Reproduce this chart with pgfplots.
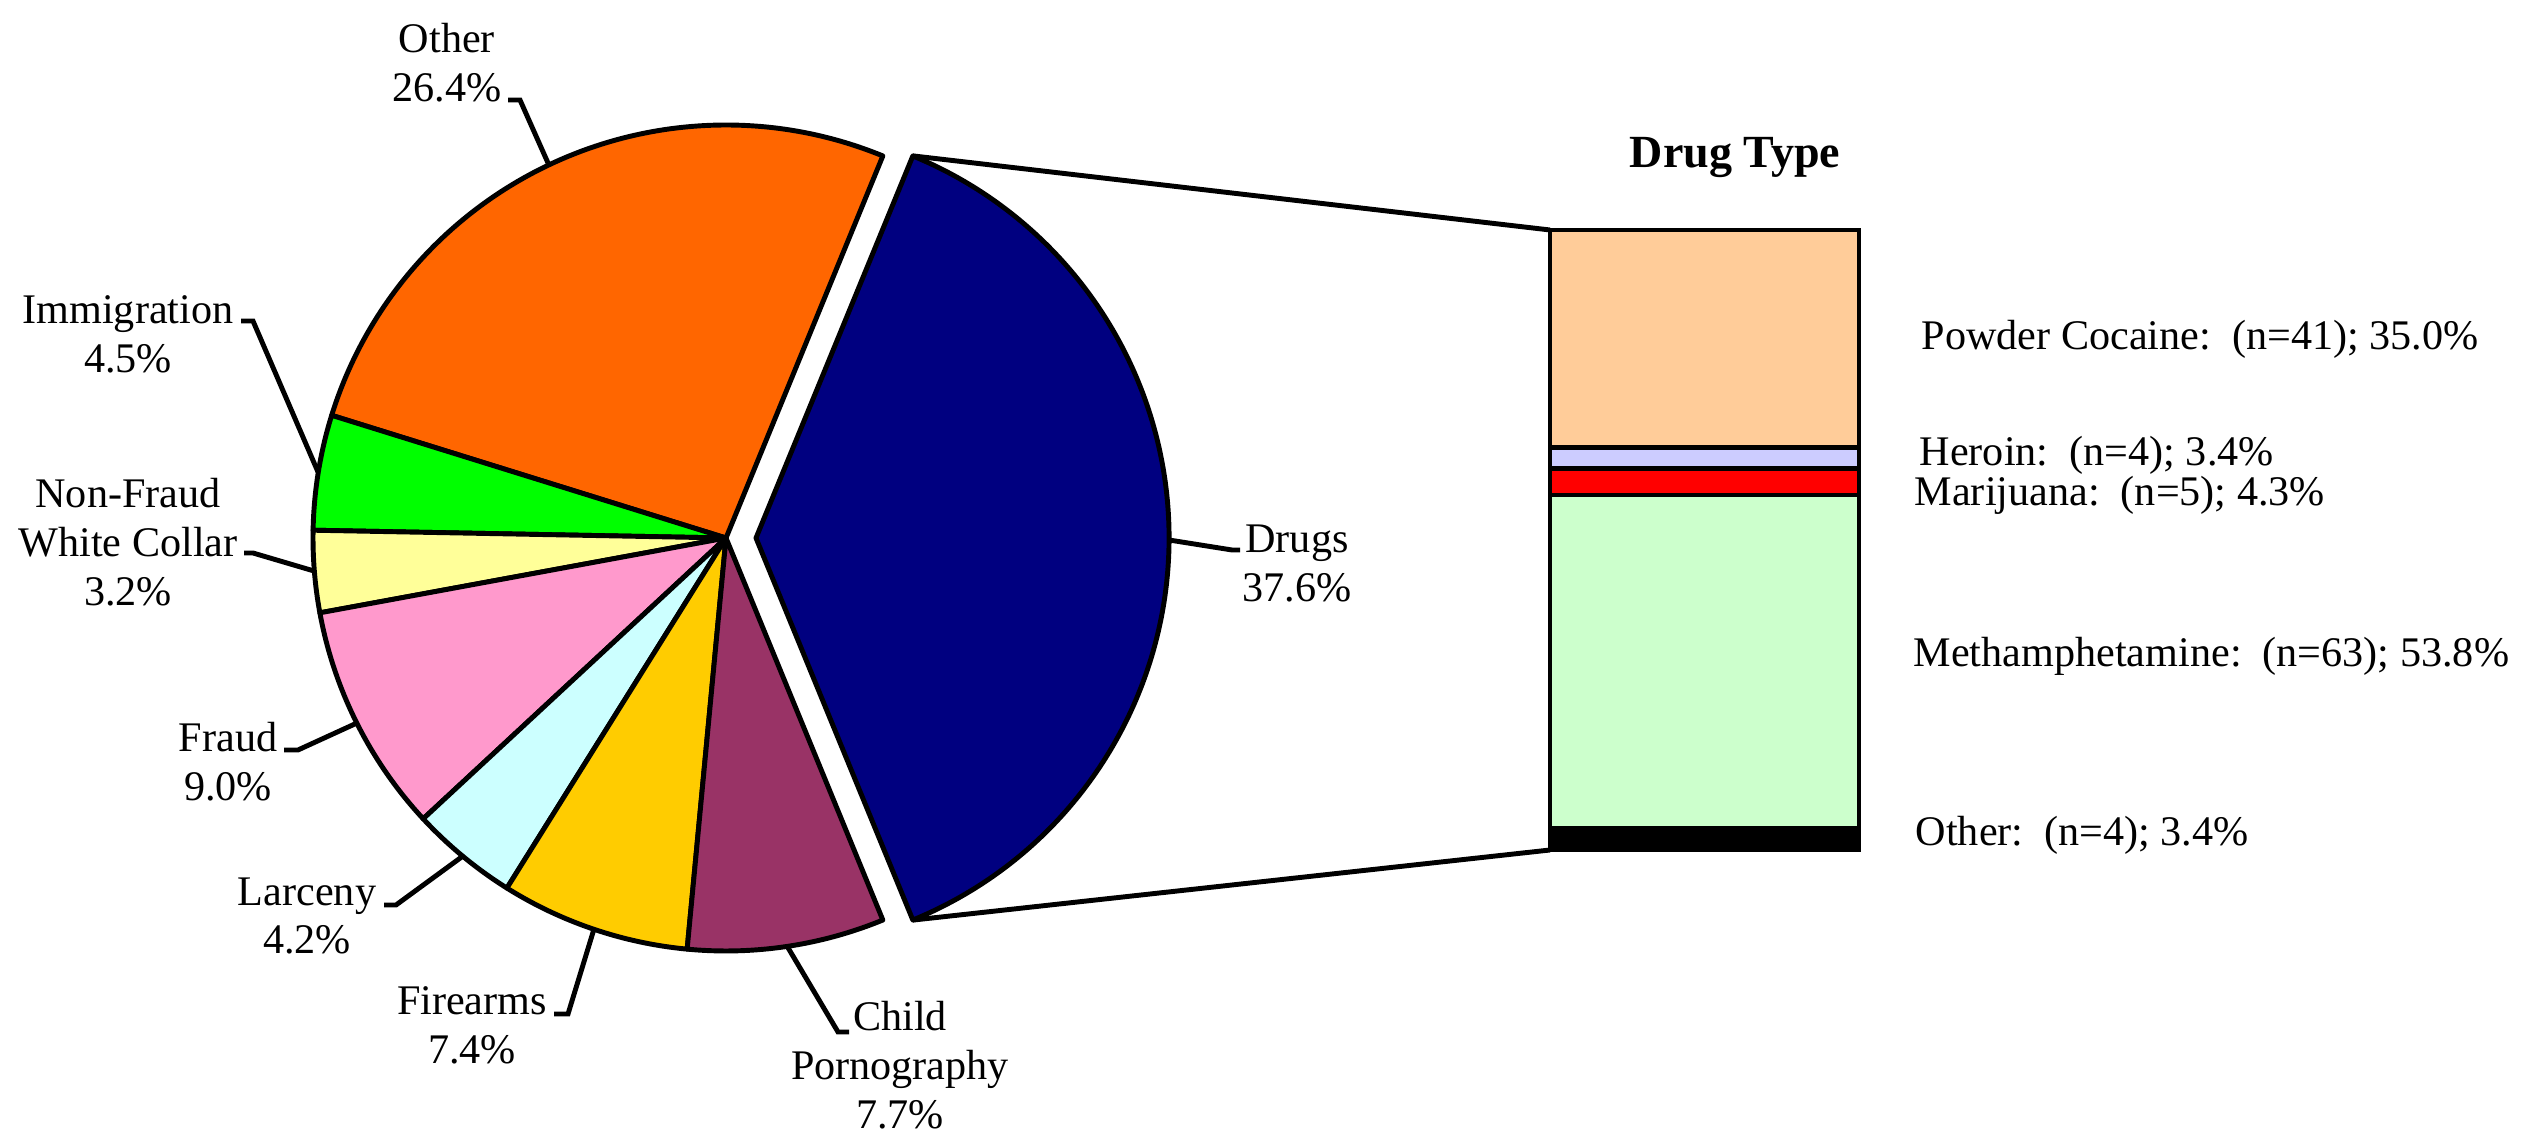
\documentclass[border=0pt]{standalone}
\usepackage{pgfplots}
\usepackage{pgfplotstable}
\pgfplotsset{compat=1.18}
\usepackage{fontspec}
\setmainfont{Liberation Serif}

\definecolor{cDrugs}{HTML}{000080}
\definecolor{cOther}{HTML}{FF6600}
\definecolor{cImm}{HTML}{00FF00}
\definecolor{cNFWC}{HTML}{FFFF99}
\definecolor{cFraud}{HTML}{FF99CC}
\definecolor{cLarc}{HTML}{CCFFFF}
\definecolor{cFire}{HTML}{FFCC00}
\definecolor{cChild}{HTML}{993366}
\definecolor{cCoc}{HTML}{FFCC99}
\definecolor{cHer}{HTML}{CCCCFF}
\definecolor{cMar}{HTML}{FF0000}
\definecolor{cMeth}{HTML}{CCFFCC}

% offense shares (percent), counter-clockwise from the exploded slice
\pgfplotstableread{
name value col explode
Drugs 37.6 cDrugs 30
Other 26.4 cOther 0
Immigration 4.5 cImm 0
NonFraud 3.2 cNFWC 0
Fraud 9.0 cFraud 0
Larceny 4.2 cLarc 0
Firearms 7.4 cFire 0
ChildPorn 7.7 cChild 0
}\pietable

\tikzset{
  lbl/.style={font=\fontsize{12}{13.9}\selectfont, inner sep=0pt, align=center},
}
\pgfplotsset{
  lead/.style={black, line width=1.4pt, mark=none, forget plot},
}

\begin{document}
\begin{tikzpicture}
\begin{axis}[
    name=main,
    hide axis,
    scale only axis,
    width=25.47cm, height=11.35cm,
    xmin=0, xmax=2547, ymin=0, ymax=1135,
    clip=false,
  ]
  % pie slices, radius 413 px = 4.13cm
  \pgfplotsextra{%
    \pgfplotstablegetelem{0}{value}\of\pietable
    \pgfmathsetmacro\angA{-1.8*\pgfplotsretval}%
    \xdef\angA{\angA}%
    \pgfplotstablegetrowsof{\pietable}%
    \pgfmathtruncatemacro\lastrow{\pgfplotsretval-1}%
    \foreach \i in {0,...,\lastrow}{%
      \pgfplotstablegetelem{\i}{value}\of\pietable \let\wval\pgfplotsretval
      \pgfplotstablegetelem{\i}{col}\of\pietable \edef\wcol{\pgfplotsretval}%
      \pgfplotstablegetelem{\i}{explode}\of\pietable \let\wexp\pgfplotsretval
      \pgfmathsetmacro\angB{\angA+3.6*\wval}%
      \pgfmathsetmacro\angM{(\angA+\angB)/2}%
      \filldraw[fill=\wcol, draw=black, line width=1.4pt, line join=round]
        (axis cs:726,597) ++(\angM:\wexp*0.01cm) -- ++(\angA:4.13cm)
        arc[start angle=\angA, end angle=\angB, radius=4.13cm] -- cycle;
      \xdef\angA{\angB}%
    }%
  }

  % connectors to the drug-type bar
  \addplot[lead] coordinates {(912.9,979.1) (1550,905)};
  \addplot[lead] coordinates {(912.9,214.9) (1550,285)};

  % leader lines
  \addplot[lead] coordinates {(508,1035) (520,1035) (548,972)};
  \addplot[lead] coordinates {(241,814) (253,814) (318,663)};
  \addplot[lead] coordinates {(244,582) (253,582) (314,564)};
  \addplot[lead] coordinates {(284,385) (298,385) (357,412)};
  \addplot[lead] coordinates {(384,230) (396,230) (463,279)};
  \addplot[lead] coordinates {(554,121) (568,121) (594,206)};
  \addplot[lead] coordinates {(849,103) (838,103) (787,189)};
  \addplot[lead] coordinates {(1169,595) (1232,585) (1240,585)};

  % slice labels
  \node[lbl] at (axis cs:447,1072.5) {Other\\26.4\%};
  \node[lbl] at (axis cs:128,801) {Immigration\\4.5\%};
  \node[lbl] at (axis cs:128,593) {Non-Fraud\\White Collar\\3.2\%};
  \node[lbl] at (axis cs:228,373.5) {Fraud\\9.0\%};
  \node[lbl] at (axis cs:307,219) {Larceny\\4.2\%};
  \node[lbl] at (axis cs:472,110) {Firearms\\7.4\%};
  \node[lbl] at (axis cs:900,70) {Child\\Pornography\\7.7\%};
  \node[lbl] at (axis cs:1297,571.5) {Drugs\\37.6\%};

  % bar labels
  \node[lbl, font=\fontsize{13.1}{15}\selectfont\bfseries, anchor=base] at (axis cs:1735,967) {Drug Type};
  \node[lbl, anchor=base west] at (axis cs:1921,785) {Powder Cocaine:\ \ (n=41); 35.0\%};
  \node[lbl, anchor=base west] at (axis cs:1919,669) {Heroin:\ \ (n=4); 3.4\%};
  \node[lbl, anchor=base west] at (axis cs:1914,629) {Marijuana:\ \ (n=5); 4.3\%};
  \node[lbl, anchor=base west] at (axis cs:1913,468) {Methamphetamine:\ \ (n=63); 53.8\%};
  \node[lbl, anchor=base west] at (axis cs:1915,289) {Other:\ \ (n=4); 3.4\%};
\end{axis}

% stacked bar of drug types
\begin{axis}[
    at={(15.5cm,2.85cm)}, anchor=south west,
    scale only axis,
    width=3.09cm, height=6.2cm,
    hide axis,
    ybar stacked,
    bar width=3.09cm,
    xmin=-0.5, xmax=0.5,
    ymin=0, ymax=99.9,
    clip=false,
  ]
  \addplot[fill=black, draw=black, line width=1.4pt] coordinates {(0,3.4)};
  \addplot[fill=cMeth, draw=black, line width=1.4pt] coordinates {(0,53.8)};
  \addplot[fill=cMar, draw=black, line width=1.4pt] coordinates {(0,4.3)};
  \addplot[fill=cHer, draw=black, line width=1.4pt] coordinates {(0,3.4)};
  \addplot[fill=cCoc, draw=black, line width=1.4pt] coordinates {(0,35.0)};
\end{axis}

\pgfresetboundingbox
\path (0,0) rectangle (25.47cm,11.35cm);
\end{tikzpicture}
\end{document}
